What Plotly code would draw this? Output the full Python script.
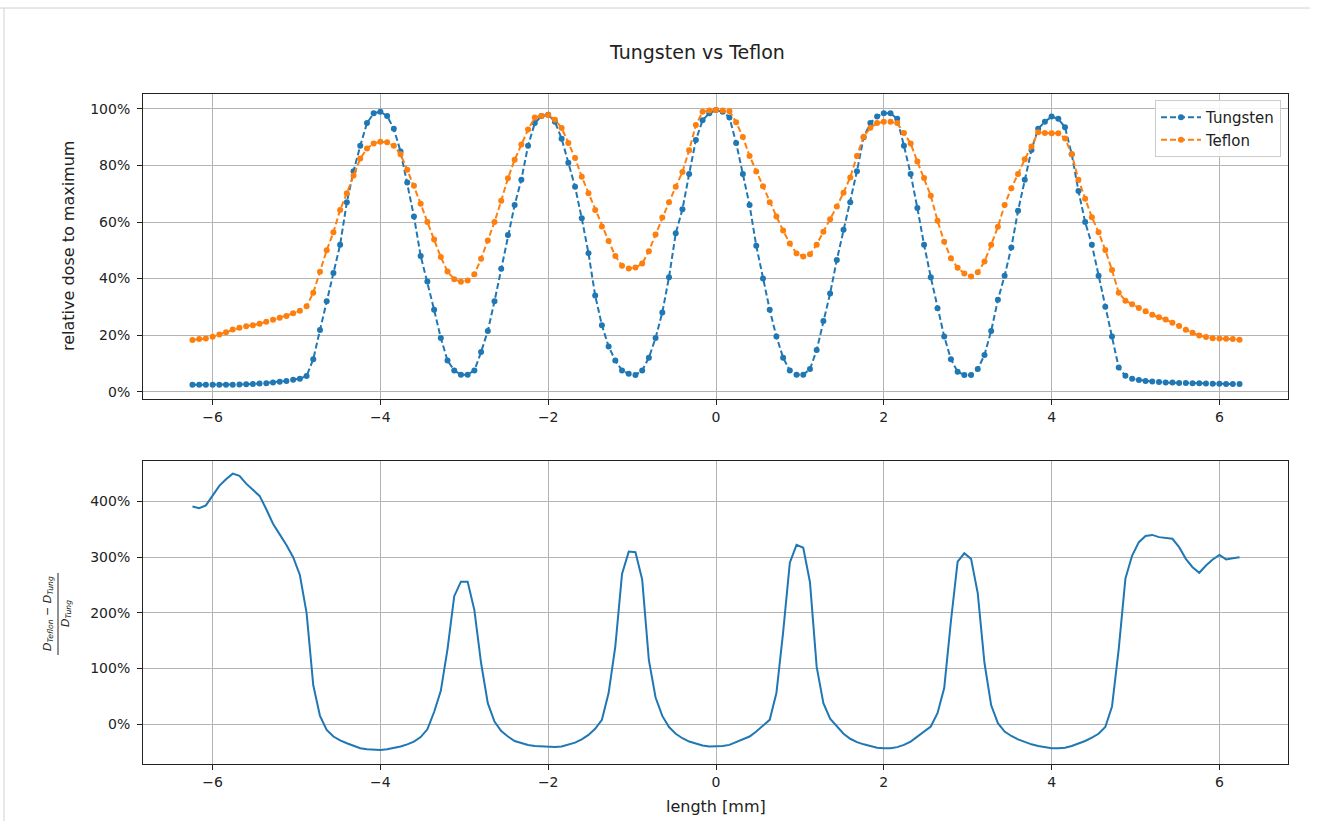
import plotly.graph_objects as go

# ---------------- data ----------------
length_mm = [
    -6.24, -6.16, -6.08, -6.00, -5.92, -5.84, -5.76, -5.68, -5.60, -5.52,
    -5.44, -5.36, -5.28, -5.20, -5.12, -5.04, -4.96, -4.88, -4.80, -4.72,
    -4.64, -4.56, -4.48, -4.40, -4.32, -4.24, -4.16, -4.08, -4.00, -3.92,
    -3.84, -3.76, -3.68, -3.60, -3.52, -3.44, -3.36, -3.28, -3.20, -3.12,
    -3.04, -2.96, -2.88, -2.80, -2.72, -2.64, -2.56, -2.48, -2.40, -2.32,
    -2.24, -2.16, -2.08, -2.00, -1.92, -1.84, -1.76, -1.68, -1.60, -1.52,
    -1.44, -1.36, -1.28, -1.20, -1.12, -1.04, -0.96, -0.88, -0.80, -0.72,
    -0.64, -0.56, -0.48, -0.40, -0.32, -0.24, -0.16, -0.08, 0.00, 0.08,
    0.16, 0.24, 0.32, 0.40, 0.48, 0.56, 0.64, 0.72, 0.80, 0.88,
    0.96, 1.04, 1.12, 1.20, 1.28, 1.36, 1.44, 1.52, 1.60, 1.68,
    1.76, 1.84, 1.92, 2.00, 2.08, 2.16, 2.24, 2.32, 2.40, 2.48,
    2.56, 2.64, 2.72, 2.80, 2.88, 2.96, 3.04, 3.12, 3.20, 3.28,
    3.36, 3.44, 3.52, 3.60, 3.68, 3.76, 3.84, 3.92, 4.00, 4.08,
    4.16, 4.24, 4.32, 4.40, 4.48, 4.56, 4.64, 4.72, 4.80, 4.88,
    4.96, 5.04, 5.12, 5.20, 5.28, 5.36, 5.44, 5.52, 5.60, 5.68,
    5.76, 5.84, 5.92, 6.00, 6.08, 6.16, 6.24,
]

# relative dose to maximum, %
tungsten = [
    2.4, 2.4, 2.4, 2.4, 2.4, 2.4, 2.4, 2.5, 2.6, 2.7,
    2.9, 3.0, 3.2, 3.5, 3.8, 4.2, 4.6, 5.5, 11.5, 21.8,
    32, 42, 52, 67, 78, 87, 95, 98.5, 99, 97.5,
    93, 85, 74, 62, 48, 39, 29, 19, 11, 7.5,
    6.0, 6.0, 7.5, 14, 21.5, 32, 43.5, 55.4, 66, 75,
    87, 95, 97.5, 98, 95.5, 89.5, 81, 72.5, 61.3, 49,
    34, 23.5, 16, 11, 7.5, 6.3, 5.9, 7.5, 12, 19,
    28, 40.5, 56, 64.5, 77, 89, 96, 98.5, 99.6, 99,
    97, 88, 77, 66, 51.6, 40, 29, 19.5, 12, 7.5,
    6.0, 6.0, 8, 14.7, 25, 34.7, 46.6, 57.3, 67, 78,
    90, 95, 97.3, 98.5, 98.5, 96.5, 87, 77, 65, 52,
    40.5, 29.5, 19.5, 11.5, 7, 5.9, 5.9, 8, 13, 21.5,
    32.5, 41, 51, 64, 75, 85.5, 93, 95.5, 97.3, 96.5,
    93.5, 84, 71, 60, 52, 41, 30, 19.5, 8.5, 5.6,
    4.6, 4.1, 3.8, 3.6, 3.4, 3.2, 3.2, 3.1, 3.1, 3.0,
    3.0, 2.9, 2.8, 2.8, 2.7, 2.7, 2.7,
]

teflon = [
    18.3, 18.6, 18.8, 19.4, 20.2, 21.0, 22.0, 22.6, 23.1, 23.5,
    24.0, 24.7, 25.4, 26.1, 26.8, 27.7, 28.6, 30.2, 35.0, 42.4,
    50.0, 56.4, 64.3, 70.2, 76.5, 82.5, 86.0, 87.8, 88.4, 88.2,
    87.0, 84.0, 78.5, 72.8, 66.5, 60.0, 53.8, 47.6, 42.5, 39.8,
    38.9, 39.3, 41.5, 47.0, 53.5, 60.0, 67.5, 75.5, 82.0, 87.4,
    92.7, 97.0, 97.5, 97.9, 96.2, 93.3, 88.0, 82.7, 76.0, 70.2,
    64.3, 58.4, 53.3, 48.0, 44.5, 43.6, 43.9, 45.3, 49.7, 55.6,
    61.6, 67.0, 72.5, 77.7, 85.4, 94.3, 99.0, 99.5, 99.6, 99.5,
    99.2, 95.3, 90.1, 83.4, 77.9, 72.7, 67.0, 62.0, 57.0, 52.4,
    48.9, 47.8, 48.6, 52.0, 56.6, 61.0, 65.5, 70.4, 75.8, 83.4,
    90.2, 93.4, 95.0, 95.5, 95.5, 95.0, 91.5, 87.8, 81.4, 75.6,
    69.3, 60.5, 53.0, 47.2, 43.8, 41.8, 40.7, 42.2, 46.0, 52.0,
    58.3, 66.0, 72.0, 77.0, 82.2, 86.7, 91.8, 91.5, 91.4, 91.4,
    89.6, 84.0, 75.0, 68.2, 61.7, 56.4, 50.1, 43.0, 35.0, 32.2,
    30.9, 29.6, 28.4, 27.2, 26.3, 25.5, 24.4, 23.2, 21.9, 20.8,
    19.9, 19.3, 18.9, 18.8, 18.7, 18.6, 18.4,
]

# (D_Teflon - D_Tung) / D_Tung, %
difference = [
    391, 388, 393, 411, 428, 440, 450, 446, 432, 421,
    410, 386, 360, 341, 322, 300, 268, 200, 70, 15,
    -10, -22, -29, -34, -39, -43, -45, -46, -46, -45,
    -43, -40, -36, -31, -23, -9, 22, 60, 135, 230,
    256, 256, 205, 110, 38, 5, -12, -22, -30, -34,
    -37, -39, -40, -41, -41, -40, -37, -33, -27, -19,
    -8, 8, 56, 140, 270, 310, 309, 260, 115, 48,
    15, -5, -17, -25, -31, -35, -38, -40, -40, -39,
    -37, -32, -27, -22, -13, -3, 8, 56, 165, 290,
    322, 317, 255, 103, 38, 10, -4, -17, -26, -32,
    -36, -39, -42, -43, -43, -41, -37, -31, -22, -14,
    -4, 20, 65, 185, 292, 307, 297, 235, 110, 34,
    2, -13, -21, -27, -32, -36, -39, -41, -43, -43,
    -42, -39, -35, -30, -24, -17, -5, 32, 135, 262,
    303, 327, 338, 340, 336, 334, 333, 318, 297, 282,
    272, 285, 296, 304, 296, 298, 300,
]

x_ticks = [-6, -4, -2, 0, 2, 4, 6]

# ---------------- figure ----------------
BLUE = "#1f77b4"
ORANGE = "#ff7f0e"
FONT = "DejaVu Sans"
TXT = "#222222"

W, H = 1317, 821
L, R, T, B = 143, 1288, 94, 764   # plot-area pixel box


def px(xp):
    return (xp - L) / (R - L)


def py(yp):
    return (B - yp) / (B - T)


fig = go.Figure()

fig.add_trace(go.Scatter(
    x=length_mm, y=tungsten, name="Tungsten", mode="lines+markers",
    line=dict(color=BLUE, width=2, dash="6px,3px"),
    marker=dict(color=BLUE, size=6),
    xaxis="x", yaxis="y"))
fig.add_trace(go.Scatter(
    x=length_mm, y=teflon, name="Teflon", mode="lines+markers",
    line=dict(color=ORANGE, width=2, dash="6px,3px"),
    marker=dict(color=ORANGE, size=6),
    xaxis="x", yaxis="y"))
fig.add_trace(go.Scatter(
    x=length_mm, y=difference, name="difference", mode="lines",
    line=dict(color=BLUE, width=2), showlegend=False,
    xaxis="x2", yaxis="y2"))

axis_common = dict(
    showline=True, linecolor=TXT, linewidth=1, mirror=True,
    ticks="outside", ticklen=5, tickwidth=1, tickcolor=TXT,
    showgrid=True, gridcolor="#b4b4b4", gridwidth=1, zeroline=False,
    tickfont=dict(family=FONT, size=14, color=TXT),
)

top_dom = [py(399), 1.0]
bot_dom = [0.0, py(461)]
xr = [(L - 716) / 83.9, (R - 716) / 83.9]

fig.update_layout(
    width=W, height=H,
    margin=dict(l=L, r=W - R, t=T, b=H - B, pad=0),
    paper_bgcolor="white", plot_bgcolor="white",
    font=dict(family=FONT, size=14, color=TXT),
    xaxis=dict(axis_common, domain=[0, 1], range=xr, anchor="y",
               tickvals=x_ticks),
    yaxis=dict(axis_common, domain=top_dom, anchor="x",
               range=[-2.6, 105.3], dtick=20, tick0=0, ticksuffix="%",
               ticklabelstandoff=4),
    xaxis2=dict(axis_common, domain=[0, 1], range=xr, anchor="y2",
                tickvals=x_ticks),
    yaxis2=dict(axis_common, domain=bot_dom, anchor="x2",
                range=[-71.3, 472.7], dtick=100, tick0=0, ticksuffix="%",
                ticklabelstandoff=4),
    legend=dict(x=px(1281), y=py(100), xanchor="right", yanchor="top",
                bgcolor="rgba(255,255,255,0.85)", bordercolor="#cccccc",
                borderwidth=1, font=dict(family=FONT, size=15, color=TXT),
                tracegroupgap=2, itemwidth=40),
    showlegend=True,
)

annotations = [
    dict(text="Tungsten vs Teflon", x=px(697), y=py(52), xref="paper",
         yref="paper", showarrow=False,
         font=dict(family=FONT, size=19, color=TXT),
         xanchor="center", yanchor="middle"),
    dict(text="relative dose to maximum", x=px(68), y=py(246),
         xref="paper", yref="paper", showarrow=False, textangle=-90,
         font=dict(family=FONT, size=16, color=TXT), xanchor="center",
         yanchor="middle"),
    dict(text="length [mm]", x=px(716), y=py(806), xref="paper",
         yref="paper", showarrow=False,
         font=dict(family=FONT, size=16, color=TXT),
         xanchor="center", yanchor="middle"),
    dict(text="<i>D</i><sub><i>Teflon</i></sub> − <i>D</i><sub><i>Tung</i></sub>",
         x=px(48), y=py(614), xref="paper", yref="paper", showarrow=False,
         textangle=-90, font=dict(family=FONT, size=11, color=TXT),
         xanchor="center", yanchor="middle"),
    dict(text="<i>D</i><sub><i>Tung</i></sub>",
         x=px(66), y=py(614), xref="paper", yref="paper", showarrow=False,
         textangle=-90, font=dict(family=FONT, size=11, color=TXT),
         xanchor="center", yanchor="middle"),
]
fig.update_layout(annotations=annotations)

shapes = [
    # fraction bar of the lower y label
    dict(type="line", xref="paper", yref="paper", x0=px(58), x1=px(58),
         y0=py(573), y1=py(655), line=dict(color=TXT, width=1)),
    # notebook-frame lines around the figure
    dict(type="line", xref="paper", yref="paper", x0=px(0), x1=px(1310),
         y0=py(8), y1=py(8), line=dict(color="#d0d0d0", width=1)),
    dict(type="line", xref="paper", yref="paper", x0=px(4), x1=px(4),
         y0=py(8), y1=py(821), line=dict(color="#d0d0d0", width=1)),
]
fig.update_layout(shapes=shapes)

fig.write_html("out.html")
